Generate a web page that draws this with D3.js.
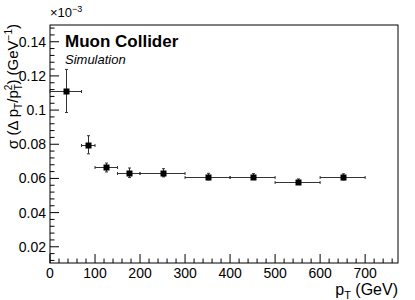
<!DOCTYPE html>
<html>
<head>
<meta charset="utf-8">
<script src="https://cdn.jsdelivr.net/npm/d3@7"></script>
<style>
  body { margin: 0; background: #fff; }
  text { font-family: 'Liberation Sans', Arial, sans-serif; }
</style>
</head>
<body>
<div id="chart"></div>
<script>
// data
const binLow = [0, 70, 100, 150, 200, 300, 400, 500, 600]
const binHigh = [70, 100, 150, 200, 300, 400, 500, 600, 700]
const resol = [0.1112, 0.0797, 0.0664, 0.0633, 0.0633, 0.0611, 0.0611, 0.0581, 0.0609]
const resolErr = [0.0126, 0.0053, 0.0026, 0.0028, 0.0024, 0.0019, 0.0017, 0.0016, 0.0018]
const xTicks = [0, 100, 200, 300, 400, 500, 600, 700]
const yTicks = [0.02, 0.04, 0.06, 0.08, 0.1, 0.12, 0.14]

const margin = { top: 25, left: 50, right: 17, bottom: 37 }
const width = 415 - margin.left - margin.right
const height = 300 - margin.top - margin.bottom

const svg = d3
  .select('#chart')
  .append('svg')
  .attr('width', 415)
  .attr('height', 300)

const g = svg
  .append('g')
  .attr('transform', 'translate(' + margin.left + ',' + margin.top + ')')

const xPositionScale = d3.scaleLinear().domain([0, 773]).range([0, width])
const yPositionScale = d3.scaleLinear().domain([0.0105, 0.1498]).range([height, 0])

// frame
g.append('rect')
  .attr('x', 0)
  .attr('y', 0)
  .attr('width', width)
  .attr('height', height)
  .attr('fill', 'none')
  .attr('stroke', '#000')
  .attr('stroke-width', 1)

// minor + major ticks drawn inside the frame, ROOT style
const xMinor = d3.range(0, 773, 20)
g.selectAll('.xminor')
  .data(xMinor)
  .enter()
  .append('line')
  .attr('x1', d => xPositionScale(d))
  .attr('x2', d => xPositionScale(d))
  .attr('y1', height)
  .attr('y2', d => (d % 100 === 0 ? height - 9 : height - 4.5))
  .attr('stroke', '#000')

const yMinor = d3.range(0.012, 0.1498, 0.004)
g.selectAll('.yminor')
  .data(yMinor)
  .enter()
  .append('line')
  .attr('x1', 0)
  .attr('x2', d => (Math.abs(Math.round(d * 50) - d * 50) < 0.01 ? 9 : 4.5))
  .attr('y1', d => yPositionScale(d))
  .attr('y2', d => yPositionScale(d))
  .attr('stroke', '#000')

// tick labels
g.selectAll('.xlab')
  .data(xTicks)
  .enter()
  .append('text')
  .attr('x', d => xPositionScale(d))
  .attr('y', height + 15)
  .attr('text-anchor', 'middle')
  .attr('font-size', 14)
  .text(d => d)

g.selectAll('.ylab')
  .data(yTicks)
  .enter()
  .append('text')
  .attr('x', -4)
  .attr('y', d => yPositionScale(d) + 5)
  .attr('text-anchor', 'end')
  .attr('font-size', 14)
  .text(d => d3.format('.2~f')(d))

// x10^-3 multiplier
const mult = g.append('text')
  .attr('x', 0)
  .attr('y', -8)
  .attr('font-size', 13)
mult.append('tspan').text('\u00d710')
mult.append('tspan').attr('dy', -5).attr('font-size', 9).text('\u22123')

// axis titles
const xt = g.append('text')
  .attr('x', width)
  .attr('y', height + 32)
  .attr('text-anchor', 'end')
  .attr('font-size', 16)
xt.append('tspan').text('p')
xt.append('tspan').attr('dy', 4).attr('font-size', 11).text('T')
xt.append('tspan').attr('dy', -4).text(' (GeV)')

const yt = svg.append('text')
  .attr('transform', 'translate(18,' + (margin.top - 1) + ') rotate(-90)')
  .attr('text-anchor', 'end')
  .attr('font-size', 15)
yt.append('tspan').text('\u03c3 (\u0394 p')
yt.append('tspan').attr('dy', 4).attr('font-size', 10).text('T')
yt.append('tspan').attr('dy', -4).text('/p')
yt.append('tspan').attr('dy', 4).attr('font-size', 10).text('T')
yt.append('tspan').attr('dy', -10).attr('dx', -6).attr('font-size', 10).text('2')
yt.append('tspan').attr('dy', 6).text(') (GeV')
yt.append('tspan').attr('dy', -6).attr('font-size', 10).text('\u22121')
yt.append('tspan').attr('dy', 6).text(')')

// labels
g.append('text')
  .attr('x', 15)
  .attr('y', 22)
  .attr('font-size', 17)
  .attr('font-weight', 'bold')
  .text('Muon Collider')

g.append('text')
  .attr('x', 15)
  .attr('y', 39)
  .attr('font-size', 13)
  .attr('font-style', 'italic')
  .text('Simulation')

// points with error bars
const pts = binLow.map((lo, i) => ({
  lo: lo,
  hi: binHigh[i],
  x: (lo + binHigh[i]) / 2,
  y: resol[i],
  e: resolErr[i]
}))

const pg = g.selectAll('.pt')
  .data(pts)
  .enter()
  .append('g')
  .attr('class', 'pt')

pg.append('line')
  .attr('x1', d => xPositionScale(d.lo))
  .attr('x2', d => xPositionScale(d.hi))
  .attr('y1', d => Math.round(yPositionScale(d.y)) + 0.5)
  .attr('y2', d => Math.round(yPositionScale(d.y)) + 0.5)
  .attr('stroke', '#333')

pg.append('line')
  .attr('x1', d => Math.round(xPositionScale(d.x)) + 0.5)
  .attr('x2', d => Math.round(xPositionScale(d.x)) + 0.5)
  .attr('y1', d => yPositionScale(d.y - d.e))
  .attr('y2', d => yPositionScale(d.y + d.e))
  .attr('stroke', '#333')

// small end marks
pg.each(function(d) {
  const s = d3.select(this)
  const yc = Math.round(yPositionScale(d.y)) + 0.5
  const xc = Math.round(xPositionScale(d.x)) + 0.5
  ;[d.lo, d.hi].forEach(v => {
    s.append('line')
      .attr('x1', xPositionScale(v)).attr('x2', xPositionScale(v))
      .attr('y1', yc - 1.5).attr('y2', yc + 1.5)
      .attr('stroke', '#333')
  })
  ;[d.y - d.e, d.y + d.e].forEach(v => {
    s.append('line')
      .attr('x1', xc - 1.5).attr('x2', xc + 1.5)
      .attr('y1', yPositionScale(v)).attr('y2', yPositionScale(v))
      .attr('stroke', '#333')
  })
})

pg.append('rect')
  .attr('x', d => Math.round(xPositionScale(d.x)) - 2.5)
  .attr('y', d => Math.round(yPositionScale(d.y)) - 2.5)
  .attr('width', 6)
  .attr('height', 6)
  .attr('fill', '#000')
</script>
</body>
</html>
